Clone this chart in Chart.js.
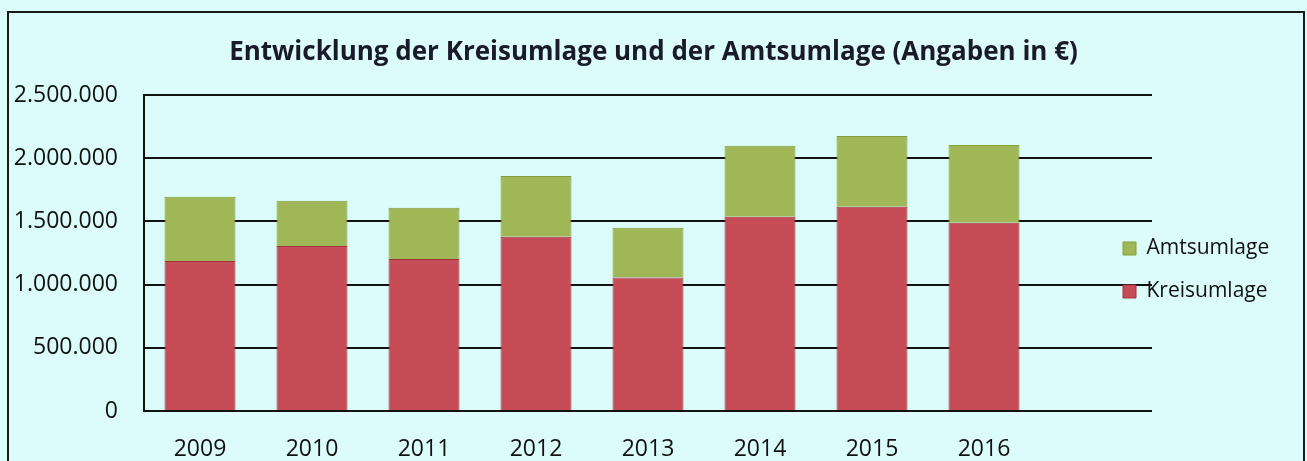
<!DOCTYPE html>
<html>
<head>
<meta charset="utf-8">
<script src="https://cdn.jsdelivr.net/npm/chart.js@4.4.1/dist/chart.umd.min.js"></script>
<style>
  html, body { margin: 0; padding: 0; background: #dcfbfb; overflow: hidden; }
  #wrap { position: relative; width: 1307px; height: 461px; }
  #rahmen { position: absolute; left: 7px; top: 11px; width: 1294px; height: 600px; border: 2px solid #1a1a1a; pointer-events: none; }
</style>
</head>
<body>
<div id="wrap">
  <canvas id="chart1" width="1307" height="461"></canvas>
  <div id="rahmen"></div>
</div>
<script>
// Daten
const jahre = ['2009', '2010', '2011', '2012', '2013', '2014', '2015', '2016'];
const kreisumlage = [1187000, 1305000, 1202000, 1379000, 1057000, 1537000, 1616000, 1490000];
const amtsumlage = [508000, 359000, 406000, 480000, 393000, 562000, 560000, 614000];
const yTicks = [0, 500000, 1000000, 1500000, 2000000, 2500000];

const titel = 'Entwicklung der Kreisumlage und der Amtsumlage (Angaben in €)';
const schrift = "'Open Sans', sans-serif";
const linie = '#111111';

// Zahl im deutschen Format (Tausenderpunkt)
function formatDe(v) {
    return v.toString().replace(/\B(?=(\d{3})+(?!\d))/g, '.');
}

// Legende rechts in die Zeichenfläche schieben (wie im Original)
const legendePlugin = {
    id: 'legendePlugin',
    afterLayout(chart) {
        const lg = chart.legend;
        const area = chart.chartArea;
        const w = lg.width;
        lg.left = 1101;
        lg.right = lg.left + w;
        lg.top = area.top + 17;
        lg.bottom = area.bottom + 17;
        lg.height = lg.bottom - lg.top;
    }
};

const ctx = document.getElementById('chart1').getContext('2d');
new Chart(ctx, {
    type: 'bar',
    data: {
        labels: [...jahre, ''],
        datasets: [{
            label: 'Kreisumlage',
            data: kreisumlage,
            backgroundColor: '#c64d58',
            borderColor: '#a2333e',
            borderWidth: 1,
            barPercentage: 0.634,
            categoryPercentage: 1
        }, {
            label: 'Amtsumlage',
            data: amtsumlage,
            backgroundColor: '#9fb757',
            borderColor: '#84a03a',
            borderWidth: 1,
            barPercentage: 0.634,
            categoryPercentage: 1
        }]
    },
    options: {
        responsive: false,
        animation: false,
        layout: { padding: { top: 37, left: 0, right: 0, bottom: 0 } },
        plugins: {
            title: {
                display: true,
                text: titel,
                color: '#1a1a2a',
                font: { family: schrift, size: 26, weight: 'bold' },
                padding: { top: 0, bottom: 26.8 }
            },
            legend: {
                position: 'chartArea',
                reverse: true,
                labels: {
                    boxWidth: 13,
                    boxHeight: 13,
                    padding: 22,
                    color: '#111',
                    font: { family: schrift, size: 21 }
                }
            },
            tooltip: { enabled: false }
        },
        scales: {
            x: {
                stacked: true,
                grid: { display: false },
                border: { display: false },
                ticks: {
                    color: '#111',
                    padding: 17,
                    font: { family: schrift, size: 23 }
                },
                afterFit: s => { s.height = 50; }
            },
            y: {
                stacked: true,
                min: yTicks[0],
                max: yTicks[yTicks.length - 1],
                grid: { color: linie, lineWidth: 2, drawTicks: false },
                border: { display: true, color: linie, width: 2 },
                ticks: {
                    stepSize: yTicks[1] - yTicks[0],
                    color: '#111',
                    padding: 26,
                    font: { family: schrift, size: 23 },
                    callback: v => formatDe(v)
                },
                afterFit: s => { s.width = 144; }
            },
            rechts: {
                position: 'right',
                display: true,
                grid: { display: false },
                border: { display: false },
                ticks: { display: false },
                afterFit: s => { s.width = 155; }
            }
        }
    },
    plugins: [legendePlugin]
});
</script>
</body>
</html>
